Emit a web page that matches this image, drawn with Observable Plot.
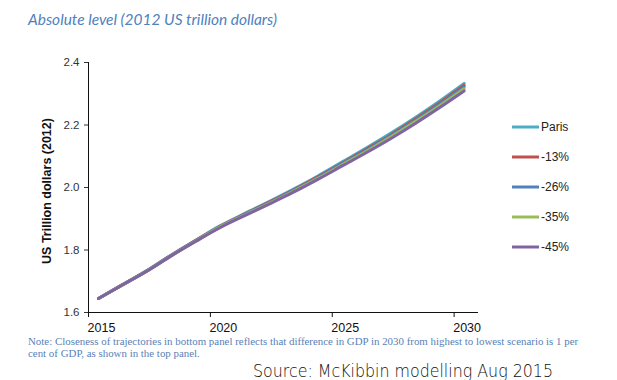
<!DOCTYPE html>
<html><head><meta charset="utf-8">
<script src="https://cdn.jsdelivr.net/npm/d3@7"></script>
<script src="https://cdn.jsdelivr.net/npm/@observablehq/plot@0.6"></script>
<style>
body{margin:0;background:#fff;}
#chart{position:relative;width:617px;height:380px;overflow:hidden;}
</style></head><body><div id="chart"></div>
<script>
const years = [2015,2016,2017,2018,2019,2020,2021,2022,2023,2024,2025,2026,2027,2028,2029,2030];
const seriesNames = ["Paris","-13%","-26%","-35%","-45%"];
const seriesColors = ["#4BACC6","#C0504D","#4F81BD","#9BBB59","#8064A2"];
const paris = [1.645,1.690,1.735,1.785,1.832,1.878,1.917,1.955,1.995,2.037,2.082,2.127,2.174,2.224,2.277,2.333];
const cut13 = [1.645,1.690,1.734,1.784,1.831,1.876,1.915,1.953,1.992,2.034,2.078,2.123,2.169,2.219,2.271,2.327];
const cut26 = [1.645,1.689,1.734,1.783,1.830,1.875,1.914,1.951,1.990,2.031,2.076,2.120,2.166,2.215,2.267,2.322];
const cut35 = [1.645,1.689,1.733,1.782,1.829,1.874,1.912,1.949,1.988,2.029,2.073,2.116,2.162,2.211,2.262,2.316];
const cut45 = [1.645,1.689,1.733,1.782,1.828,1.872,1.910,1.947,1.985,2.026,2.069,2.112,2.157,2.205,2.256,2.309];
const xTicks = [2015,2020,2025,2030];
const yTicks = [1.6,1.8,2.0,2.2,2.4];
const titleText = "Absolute level (2012 US trillion dollars)";
const yLabel = "US Trillion dollars (2012)";
const noteLines = ["Note: Closeness of trajectories in bottom panel reflects that difference in GDP in 2030 from highest to lowest scenario is 1 per",
  "cent of GDP, as shown in the top panel."];
const sourceText = "Source: McKibbin modelling Aug 2015";

const seriesValues = [paris, cut13, cut26, cut35, cut45];
const data = [];
seriesNames.forEach((s, i) => years.forEach((y, j) => data.push({series: s, year: y, value: seriesValues[i][j]})));

const plot = Plot.plot({
  width: 617, height: 380,
  marginLeft: 88, marginRight: 139, marginTop: 62, marginBottom: 68,
  x: {domain: [2015, 2031]},
  y: {domain: [1.6, 2.4]},
  color: {domain: seriesNames, range: seriesColors},
  style: {fontFamily: "'Liberation Sans', Arial, sans-serif", background: "white", color: "#222"},
  marks: [
    Plot.axisY({ticks: yTicks, tickSize: 4, tickPadding: 5, tickFormat: d => d.toFixed(1), fontSize: 11.5, label: null, color: "#333"}),
    Plot.axisX({ticks: xTicks, tickSize: 5, tickFormat: () => "", label: null, color: "#111"}),
    Plot.text(xTicks, {x: d => d, y: 1.6, dy: 15, dx: 13, text: d => String(d), fontSize: 12.5, fill: "#111"}),
    Plot.ruleX([2015], {stroke: "#111"}),
    Plot.ruleY([1.6], {stroke: "#111"}),
    Plot.line(data, {x: "year", y: "value", z: "series", stroke: "series", strokeWidth: 3, dx: 10, curve: "monotone-x"})
  ]
});
document.getElementById("chart").appendChild(plot);

const svg = d3.select(plot);
const color = plot.scale("color");
svg.append("text").attr("x", 28).attr("y", 25).attr("text-anchor", "start").text(titleText)
  .attr("font-family", "Lato, 'Open Sans', sans-serif").attr("font-style", "italic").attr("font-size", 15)
  .attr("fill", "#4F81BD").attr("textLength", 249).attr("lengthAdjust", "spacingAndGlyphs");
svg.append("text").attr("transform", "translate(51,191) rotate(-90)").attr("text-anchor", "middle")
  .text(yLabel).attr("font-weight", "bold").attr("font-size", 12.5).attr("fill", "#111");
const leg = svg.append("g");
seriesNames.forEach((s, i) => {
  const y = 127 + i * 30;
  leg.append("line").attr("x1", 512).attr("x2", 539).attr("y1", y).attr("y2", y)
    .attr("stroke", color.apply(s)).attr("stroke-width", 3);
  leg.append("text").attr("x", 541).attr("y", y).attr("dy", "0.35em").attr("text-anchor", "start").text(s)
    .attr("font-size", 12).attr("fill", "#222");
});
noteLines.forEach((t, i) => {
  svg.append("text").attr("x", 28).attr("y", 345 + i * 11.5).attr("text-anchor", "start").text(t)
    .attr("font-family", "'Liberation Serif', serif").attr("font-size", 10.9).attr("fill", "#5a7fb6");
});
svg.append("text").attr("x", 253).attr("y", 377).attr("text-anchor", "start").text(sourceText)
  .attr("font-family", "'DejaVu Sans', sans-serif").attr("font-weight", 200).attr("font-size", 17)
  .attr("fill", "#111").attr("textLength", 300).attr("lengthAdjust", "spacingAndGlyphs");
</script>
</body></html>
